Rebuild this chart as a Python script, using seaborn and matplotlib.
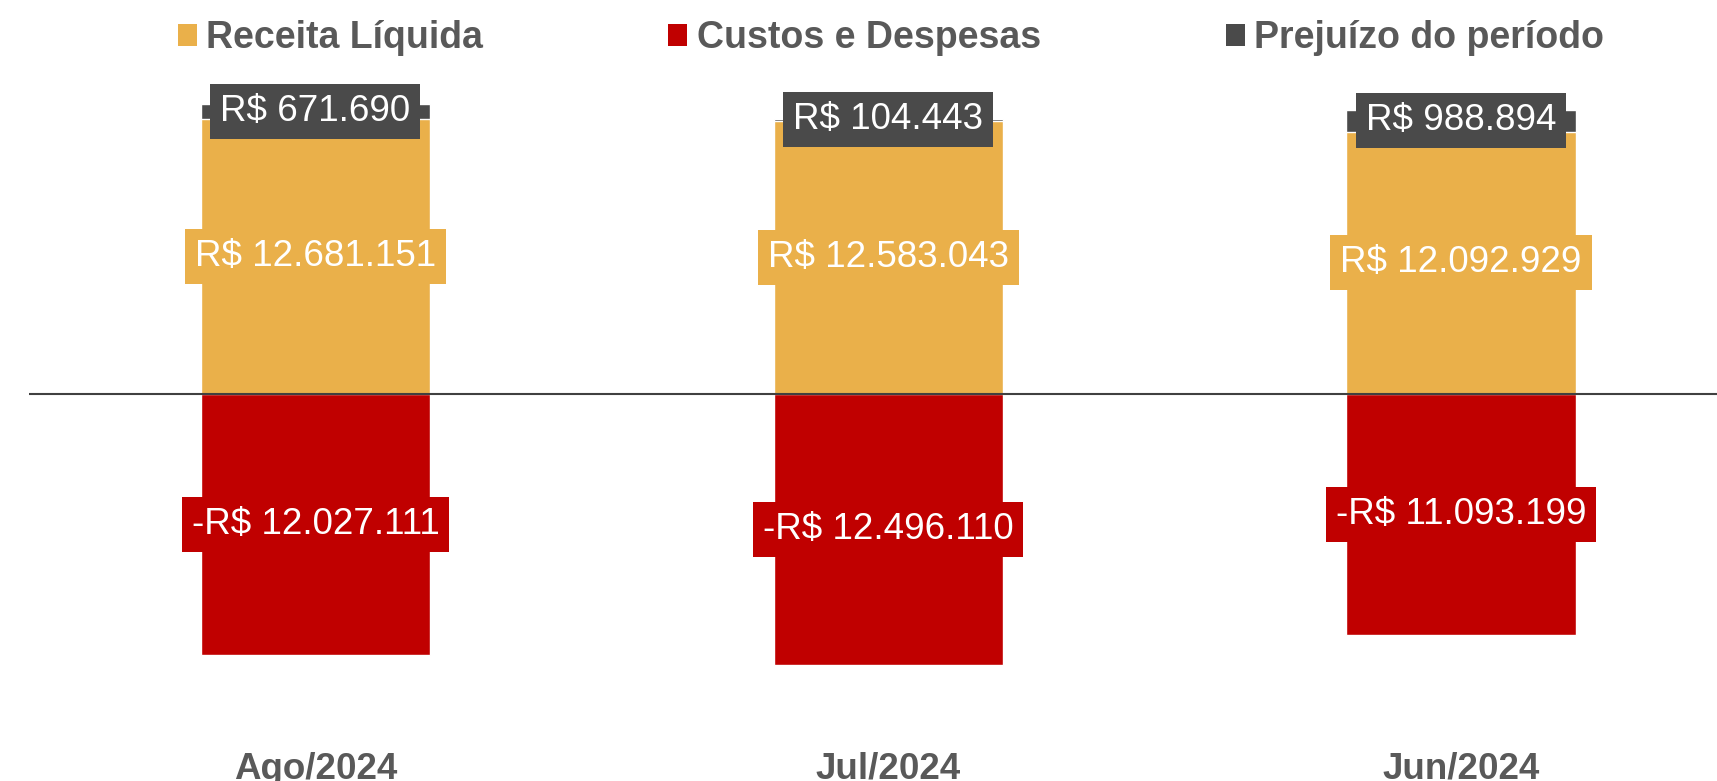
import matplotlib
matplotlib.use("Agg")
import matplotlib.pyplot as plt
from matplotlib.patches import Patch
import seaborn as sns

# dados (R$)
periodos = ["Ago/2024", "Jul/2024", "Jun/2024"]
receita = [12681151, 12583043, 12092929]
custos = [-12027111, -12496110, -11093199]
prejuizo = [671690, 104443, 988894]
series = ["Receita Líquida", "Custos e Despesas", "Prejuízo do período"]

GOLD = "#EAB04A"
RED = "#C00000"
GRAY = "#4A4A4A"
TXT = "#595959"


def brl(v):
    s = "R$ {:,.0f}".format(abs(v)).replace(",", ".")
    return "-" + s if v < 0 else s


sns.set_style("white")
plt.rcParams["font.family"] = ["Liberation Sans", "DejaVu Sans"]

fig = plt.figure(figsize=(17.17, 7.81), dpi=100)
ax = fig.add_axes([29 / 1717, 0.05, 1 - 29 / 1717, 0.8476])

# prejuízo empilhado em cima da receita: desenha o total e a receita por cima
total = [r + p for r, p in zip(receita, prejuizo)]
sns.barplot(x=periodos, y=total, color=GRAY, saturation=1, width=0.4,
            errorbar=None, ax=ax, zorder=2)
sns.barplot(x=periodos, y=receita, color=GOLD, saturation=1, width=0.4,
            errorbar=None, ax=ax, zorder=2)
sns.barplot(x=periodos, y=custos, color=RED, saturation=1, width=0.4,
            errorbar=None, ax=ax, zorder=2)

ax.axhline(0, color="#404040", lw=1.5, zorder=3)

lab_kw = dict(ha="center", va="center", color="white", fontsize=26.5, zorder=5)
box = "square,pad=0.27"
for i in range(len(periodos)):
    ax.text(i, receita[i] / 2, brl(receita[i]),
            bbox=dict(boxstyle=box, fc=GOLD, ec="none"), **lab_kw)
    ax.text(i, custos[i] / 2, brl(custos[i]),
            bbox=dict(boxstyle=box, fc=RED, ec="none"), **lab_kw)
    ax.text(i, receita[i] + prejuizo[i] / 2, brl(prejuizo[i]),
            bbox=dict(boxstyle=box, fc=GRAY, ec="none"), **lab_kw)

ax.set_xlim(-0.5, 2.447)
ax.set_ylim(-16.04e6, 14.47e6)
ax.set_yticks([])
ax.set_xlabel("")
ax.set_ylabel("")
ax.tick_params(axis="x", length=0, pad=7, labelsize=26.5, labelcolor=TXT)
for t in ax.get_xticklabels():
    t.set_fontweight("bold")
sns.despine(ax=ax, left=True, bottom=True)

handles = [Patch(facecolor=c, edgecolor="none") for c in (GOLD, RED, GRAY)]
fig.legend(handles, series, loc="center", bbox_to_anchor=(0.519, 0.951),
           ncol=3, frameon=False, columnspacing=4.95, handlelength=0.5,
           handleheight=0.5, handletextpad=0.25, labelcolor=TXT,
           prop=dict(family="Liberation Sans", weight="bold", size=27))

fig.savefig("out.png", dpi=100)
